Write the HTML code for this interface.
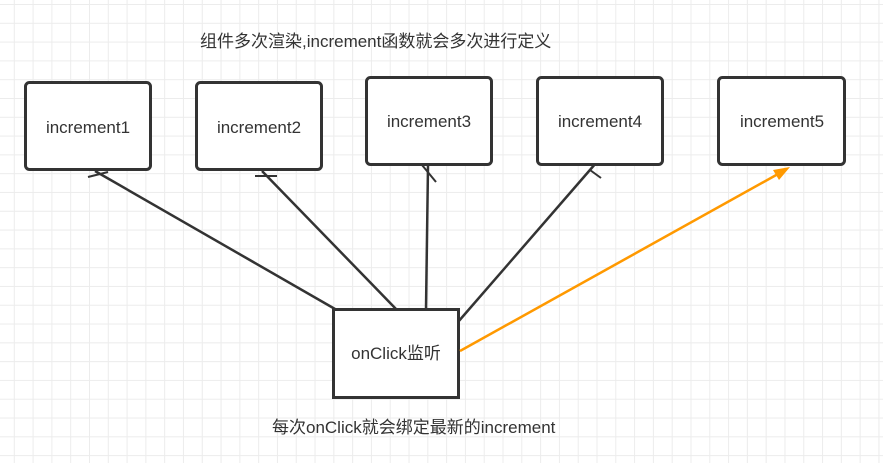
<!DOCTYPE html>
<html><head><meta charset="utf-8"><style>
body{margin:0;width:883px;height:463px;overflow:hidden;background:#fff;
background-image:linear-gradient(#ececec 1px,transparent 1px),linear-gradient(90deg,#ececec 1px,transparent 1px);
background-size:18.8px 18.8px;background-position:-5px 4px;font-family:"Liberation Sans","Noto Sans CJK SC",sans-serif;}
svg{position:absolute;left:0;top:0}
text{font-family:"Liberation Sans","Noto Sans CJK SC",sans-serif;font-size:17px;fill:#333}
</style></head><body>
<svg width="883" height="463">
<g stroke="#333" stroke-width="2.5" fill="none">
<line x1="95" y1="171" x2="335" y2="309"/>
<line x1="88" y1="177" x2="108" y2="172" stroke-width="2"/>
<line x1="262" y1="171" x2="396" y2="309"/>
<line x1="255" y1="176" x2="277" y2="176" stroke-width="2"/>
<line x1="428" y1="166" x2="426" y2="309"/>
<line x1="422" y1="165" x2="436" y2="182" stroke-width="2"/>
<line x1="596" y1="163" x2="458" y2="322"/>
<line x1="590" y1="170" x2="601" y2="178" stroke-width="2"/>
<rect x="25.5" y="82.5" width="125" height="87" rx="4" fill="#fff" stroke-width="3"/>
<rect x="196.5" y="82.5" width="125" height="87" rx="4" fill="#fff" stroke-width="3"/>
<rect x="366.5" y="77.5" width="125" height="87" rx="4" fill="#fff" stroke-width="3"/>
<rect x="537.5" y="77.5" width="125" height="87" rx="4" fill="#fff" stroke-width="3"/>
<rect x="718.5" y="77.5" width="126" height="87" rx="4" fill="#fff" stroke-width="3"/>
<rect x="333.5" y="309.5" width="125" height="88" fill="#fff" stroke-width="3"/>
</g>
<line x1="460" y1="351" x2="778" y2="174" stroke="#f90" stroke-width="2.5"/>
<polygon points="790,167 773,170 779,180" fill="#f90"/>
<text x="88" y="133" text-anchor="middle">increment1</text>
<text x="259" y="133" text-anchor="middle">increment2</text>
<text x="429" y="127" text-anchor="middle">increment3</text>
<text x="600" y="127" text-anchor="middle">increment4</text>
<text x="782" y="127" text-anchor="middle">increment5</text>
<text x="396" y="359" text-anchor="middle">onClick监听</text>
<text x="200" y="47" font-size="15.4">组件多次渲染,increment函数就会多次进行定义</text>
<text x="272" y="433" font-size="15.7">每次onClick就会绑定最新的increment</text>
</svg>
</body></html>
